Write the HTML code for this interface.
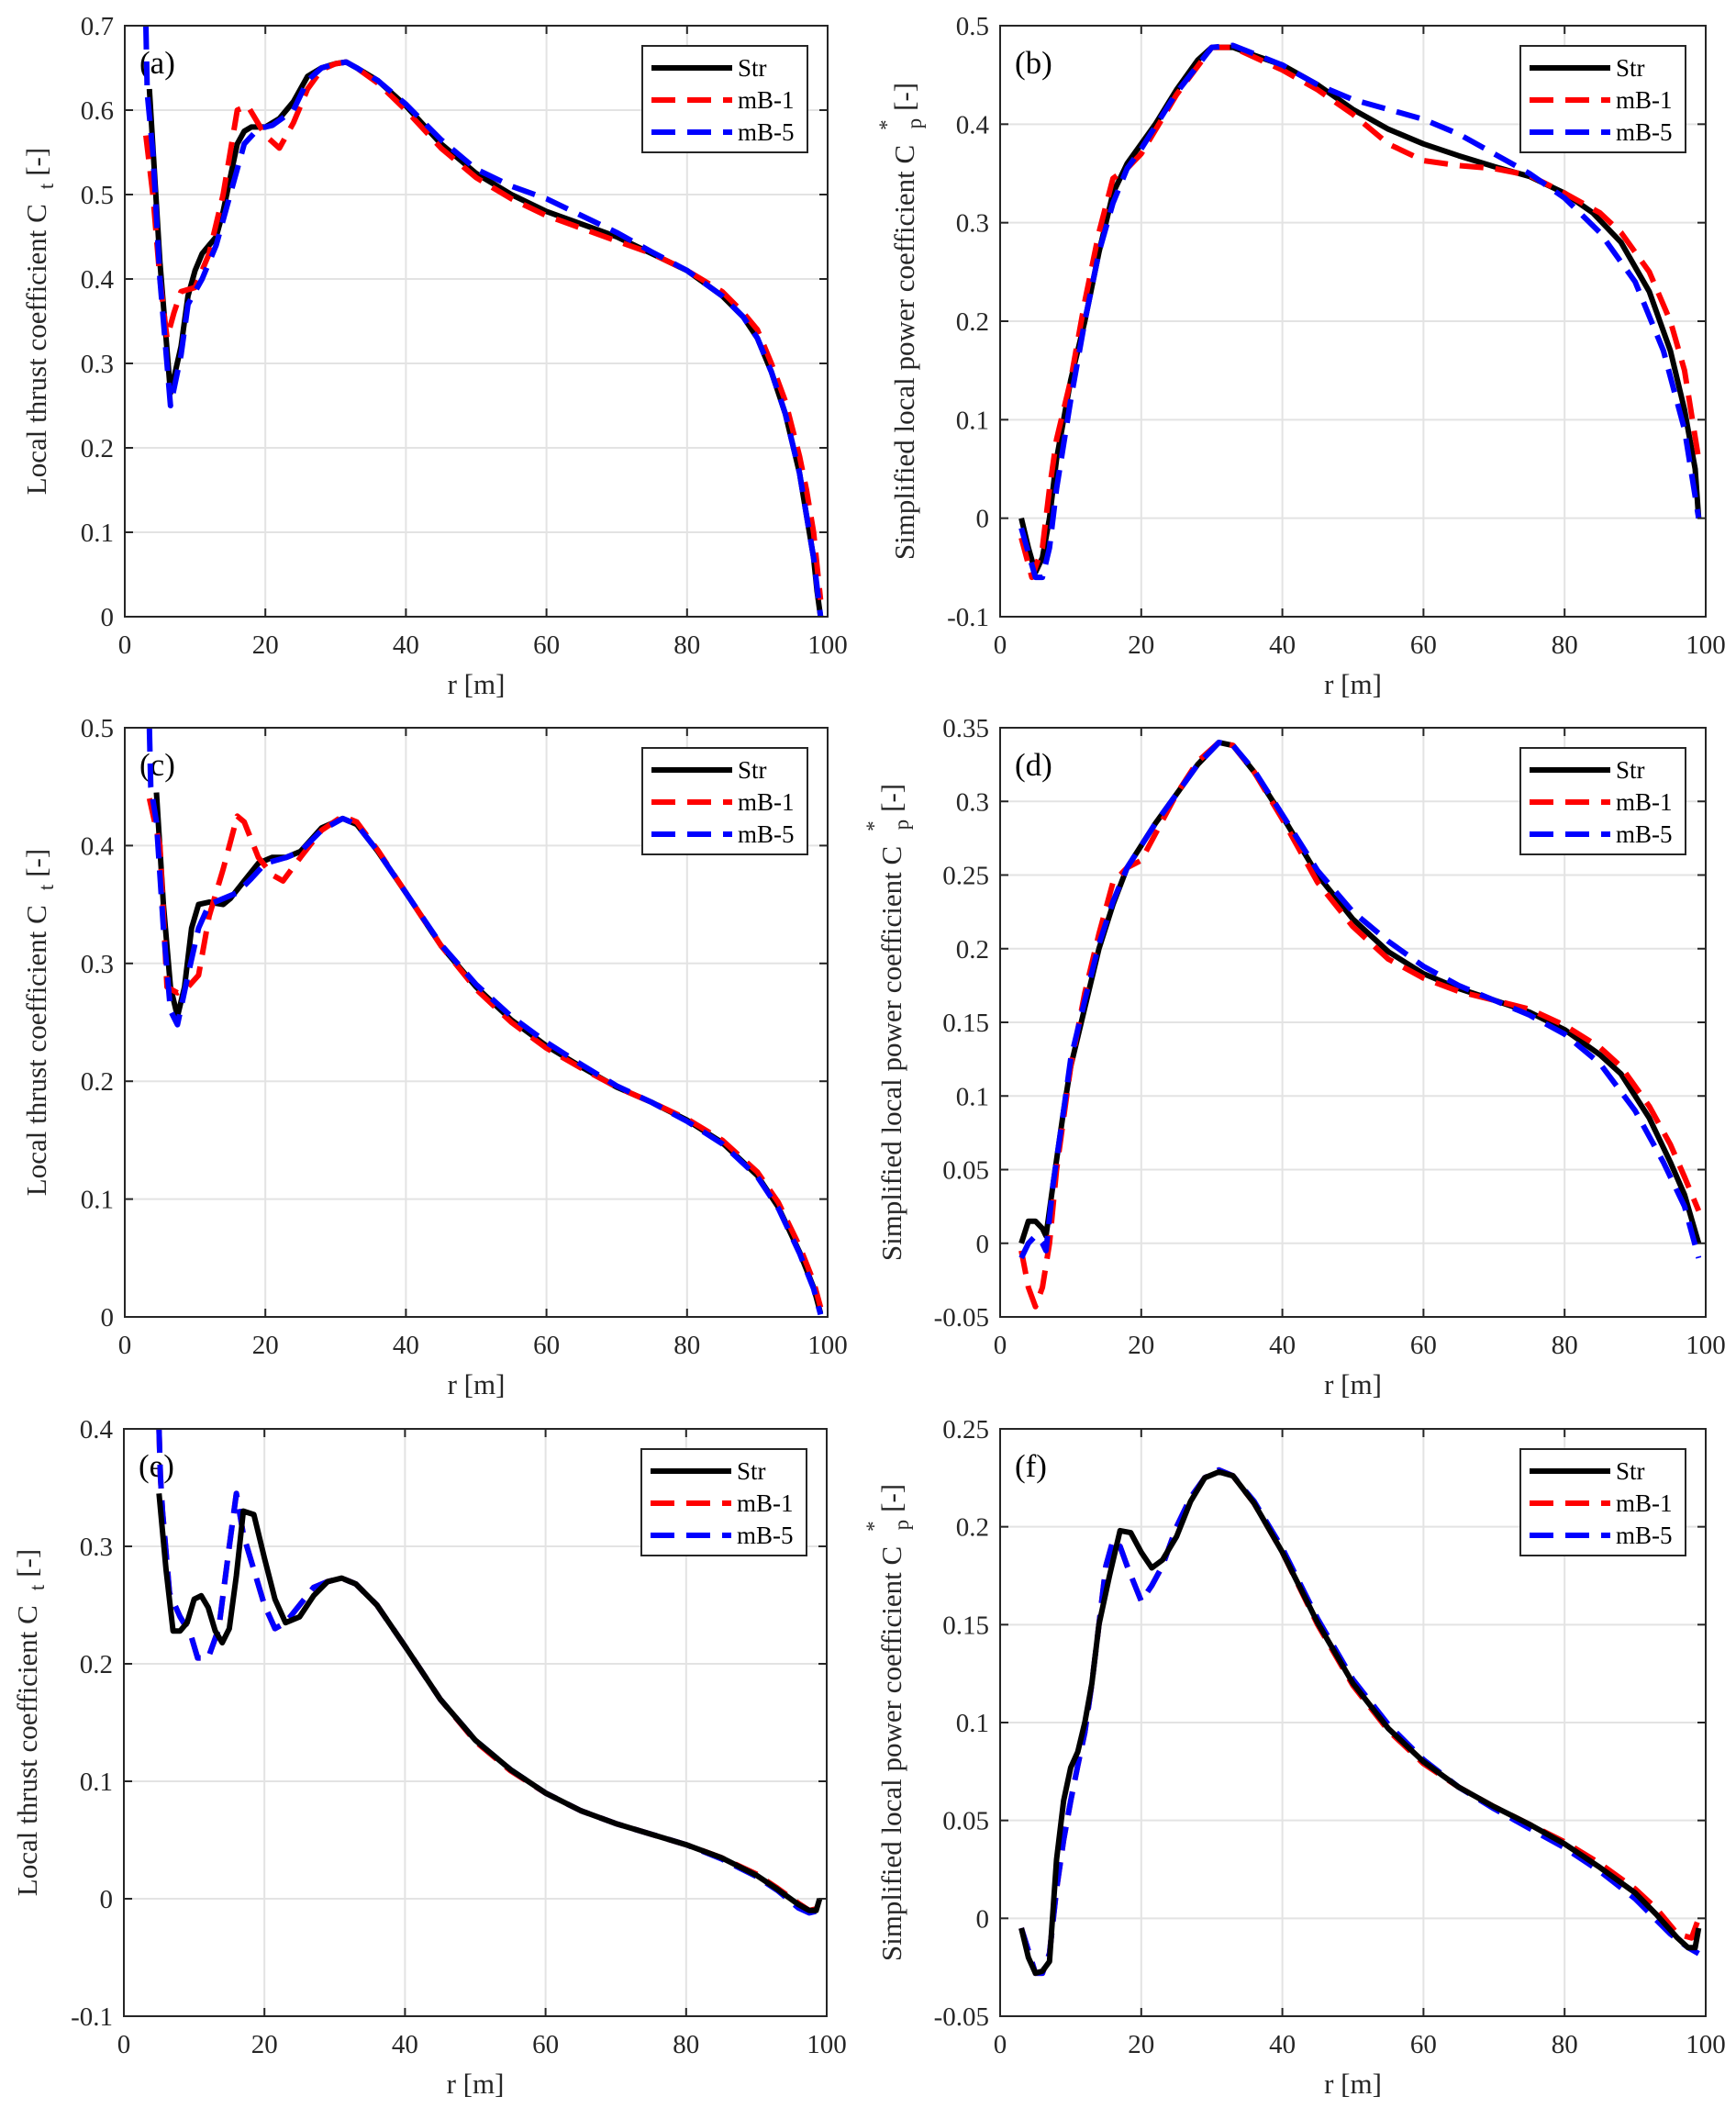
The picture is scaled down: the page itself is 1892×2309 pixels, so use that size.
<!DOCTYPE html>
<html><head><meta charset="utf-8">
<style>
html,body{margin:0;padding:0;background:#fff;}
svg{display:block;font-family:"Liberation Serif",serif;}
</style></head>
<body>
<svg id="fig" width="1892" height="2309" viewBox="0 0 1892 2309" xmlns="http://www.w3.org/2000/svg"></svg>
<script>
// ---------- Panel (a) ----------
const aStrR=[3.5,5,6.5,8,9,10,11,12,13,14,15,16,17,18,20,22,24,26,28,30,31.5,33,36,40,45,50,55,60,65,70,75,80,85,88,90,92,94,96,97,98,98.5,99];
const aStrV=[0.625,0.42,0.265,0.32,0.38,0.41,0.43,0.44,0.45,0.48,0.52,0.56,0.575,0.58,0.58,0.59,0.61,0.64,0.65,0.655,0.657,0.65,0.635,0.605,0.56,0.525,0.5,0.48,0.465,0.45,0.43,0.41,0.38,0.355,0.33,0.29,0.24,0.17,0.12,0.07,0.03,0.0];
const aB1R=[3,4,5,6,7,8,10,12,14,16,17.5,20,22,24,26,28,30,31.5,33,36,40,45,50,55,60,65,70,75,80,85,88,90,92,94,96,97,98,99];
const aB1V=[0.57,0.5,0.4,0.33,0.36,0.385,0.39,0.43,0.5,0.6,0.605,0.57,0.555,0.585,0.625,0.648,0.655,0.657,0.65,0.632,0.6,0.555,0.52,0.495,0.475,0.46,0.445,0.43,0.41,0.385,0.36,0.34,0.3,0.255,0.19,0.15,0.1,0.02];
const aB5R=[3,3.2,4,5,6.5,8,9,11,13,15,17,19,21,24,26,28,30,31.5,33,36,40,45,50,55,60,65,70,75,80,85,88,90,92,94,96,97,98,99];
const aB5V=[0.7,0.62,0.55,0.4,0.25,0.31,0.37,0.4,0.44,0.5,0.56,0.578,0.582,0.6,0.635,0.65,0.655,0.657,0.65,0.635,0.607,0.565,0.53,0.51,0.495,0.475,0.455,0.432,0.41,0.38,0.355,0.33,0.29,0.24,0.17,0.12,0.07,0.0];
// ---------- Panel (b) ----------
const bStrR=[3,4,5,6,7,8,10,12,14,16,18,20,22,25,28,30,33,36,40,45,50,55,60,65,70,75,80,84,88,92,95,97,98.5,99];
const bStrV=[0.0,-0.03,-0.055,-0.04,0.0,0.06,0.14,0.2,0.27,0.33,0.36,0.38,0.4,0.435,0.465,0.478,0.478,0.47,0.46,0.44,0.415,0.395,0.38,0.368,0.357,0.347,0.33,0.31,0.28,0.23,0.17,0.11,0.05,0.0];
const bB1R=[3,4.5,6,7,8,10,12,14,16,18,20,25,30,33,40,45,50,55,60,65,70,75,80,85,88,92,95,97,99];
const bB1V=[-0.02,-0.06,-0.03,0.03,0.08,0.14,0.22,0.29,0.345,0.355,0.37,0.43,0.478,0.478,0.455,0.435,0.41,0.38,0.363,0.358,0.355,0.348,0.33,0.31,0.29,0.25,0.2,0.15,0.06];
const bB5R=[3,5,6,7,8,10,12,14,16,18,20,25,30,33,40,45,50,55,60,65,70,75,80,85,90,94,97,99];
const bB5V=[-0.01,-0.06,-0.06,-0.03,0.03,0.12,0.2,0.27,0.32,0.355,0.375,0.432,0.478,0.48,0.46,0.44,0.425,0.415,0.405,0.39,0.37,0.35,0.325,0.29,0.24,0.17,0.09,0.0];
// ---------- Panel (c) ----------
const cStrR=[4.5,5.5,6.5,7.5,8.5,9.5,10.5,12,14,15,17,19,21,23,25,28,31,33,36,40,45,50,55,60,65,70,75,80,85,90,93,96,98,99];
const cStrV=[0.445,0.35,0.28,0.255,0.28,0.33,0.35,0.352,0.35,0.355,0.37,0.385,0.39,0.39,0.395,0.415,0.423,0.418,0.395,0.36,0.315,0.28,0.252,0.23,0.212,0.195,0.182,0.167,0.148,0.12,0.093,0.055,0.025,0.003];
const cB1R=[3.5,5,6,7.5,9,10.5,12,14,16,17,19,21,22.5,25,28,31,33,36,40,45,50,55,60,65,70,75,80,85,90,93,96,98,99];
const cB1V=[0.44,0.4,0.28,0.275,0.28,0.29,0.34,0.38,0.425,0.42,0.39,0.375,0.37,0.39,0.413,0.425,0.42,0.396,0.36,0.315,0.278,0.25,0.228,0.211,0.195,0.182,0.168,0.15,0.123,0.097,0.06,0.03,0.008];
const cB5R=[3.5,3.7,4.5,5.5,6.5,7.5,9,10.5,12,14,16,18,20,23,25,28,31,33,36,40,45,50,55,60,65,70,75,80,85,90,93,96,98,99];
const cB5V=[0.5,0.45,0.42,0.33,0.26,0.248,0.29,0.33,0.35,0.355,0.36,0.372,0.385,0.39,0.395,0.413,0.423,0.418,0.395,0.36,0.316,0.282,0.255,0.233,0.214,0.196,0.182,0.166,0.147,0.119,0.092,0.054,0.024,0.002];
// ---------- Panel (d) ----------
const dStrR=[3,4,5,6,6.5,7.5,9,10,12,14,16,18,20,22,25,28,31,33,36,40,45,50,55,60,65,70,75,80,85,88,92,95,97,99];
const dStrV=[0.0,0.015,0.015,0.01,0.005,0.04,0.09,0.12,0.16,0.2,0.23,0.255,0.27,0.285,0.305,0.325,0.34,0.338,0.32,0.29,0.25,0.22,0.198,0.183,0.173,0.165,0.157,0.145,0.128,0.115,0.085,0.055,0.033,0.0];
const dB1R=[3,4,5,6,7,8,10,12,14,16,18,20,22,25,28,31,33,36,40,45,50,55,60,65,70,75,80,85,88,92,95,97,99];
const dB1V=[-0.005,-0.03,-0.043,-0.03,0.0,0.05,0.12,0.17,0.21,0.245,0.255,0.26,0.278,0.305,0.327,0.34,0.338,0.32,0.288,0.245,0.215,0.193,0.18,0.171,0.165,0.159,0.148,0.133,0.12,0.093,0.067,0.045,0.022];
const dB5R=[3,4,5,6,6.5,7.5,9,10,12,14,16,18,20,22,25,28,31,33,36,40,45,50,55,60,65,70,75,80,85,90,94,97,99];
const dB5V=[-0.01,0.0,0.005,0.0,-0.005,0.04,0.09,0.125,0.165,0.203,0.232,0.255,0.27,0.285,0.305,0.325,0.34,0.338,0.321,0.291,0.253,0.225,0.205,0.188,0.175,0.165,0.155,0.142,0.122,0.09,0.055,0.025,-0.01];
// ---------- Panel (e) ----------
const eStrR=[5,6,7,8,9,10,11,12,13,14,15,16,17,18.5,20,21.5,23,25,27,29,31,33,36,40,45,50,55,60,65,70,75,80,85,90,93,96,97.5,98.5,99];
const eStrV=[0.345,0.28,0.228,0.228,0.235,0.255,0.258,0.248,0.228,0.218,0.23,0.275,0.33,0.327,0.29,0.255,0.235,0.24,0.258,0.27,0.273,0.268,0.25,0.215,0.17,0.135,0.11,0.09,0.075,0.064,0.055,0.046,0.035,0.02,0.008,-0.005,-0.01,-0.01,0.0];
const eB1R=[5,5.2,5.5,6.5,8,9.5,10.5,12,13.5,15,16,17,18.5,20,21.5,23,25,27,29,31,33,36,40,45,50,55,60,65,70,75,80,85,90,93,96,97.5,99];
const eB1V=[0.4,0.36,0.33,0.26,0.24,0.225,0.205,0.205,0.23,0.3,0.345,0.31,0.28,0.25,0.23,0.235,0.25,0.265,0.27,0.273,0.268,0.25,0.215,0.17,0.134,0.109,0.09,0.075,0.064,0.055,0.046,0.035,0.021,0.009,-0.004,-0.01,-0.008];
const eB5R=[5,5.2,5.5,6.5,8,9.5,10.5,12,13.5,15,16,17,18.5,20,21.5,23,25,27,29,31,33,36,40,45,50,55,60,65,70,75,80,85,90,93,96,97.5,99];
const eB5V=[0.4,0.36,0.33,0.26,0.24,0.225,0.205,0.205,0.23,0.3,0.345,0.31,0.28,0.25,0.23,0.235,0.25,0.265,0.27,0.273,0.268,0.25,0.215,0.17,0.135,0.11,0.09,0.075,0.064,0.055,0.046,0.034,0.019,0.007,-0.008,-0.012,-0.01];
// ---------- Panel (f) ----------
const fStrR=[3,4,5,6,7,8,9,10,11,12,13,14,15.5,17,18.5,20,21.5,23,25,27,29,31,33,36,40,45,50,55,60,65,70,75,80,85,90,93,96,97.5,98.5,99];
const fStrV=[-0.005,-0.02,-0.028,-0.027,-0.022,0.03,0.06,0.077,0.085,0.1,0.12,0.15,0.175,0.198,0.197,0.187,0.179,0.183,0.195,0.213,0.225,0.228,0.226,0.212,0.187,0.151,0.12,0.097,0.08,0.067,0.057,0.048,0.038,0.026,0.013,0.002,-0.01,-0.015,-0.015,-0.005];
const fB1R=[3,5,6,7,8,9,10,11,12,13,14,15,16,17,18,20,21.5,23,25,27,29,31,33,36,40,45,50,55,60,65,70,75,80,85,90,93,96,98,99];
const fB1V=[-0.005,-0.028,-0.028,-0.018,0.015,0.04,0.06,0.078,0.095,0.12,0.15,0.18,0.193,0.19,0.18,0.162,0.17,0.18,0.2,0.215,0.225,0.229,0.226,0.212,0.187,0.15,0.119,0.096,0.079,0.067,0.057,0.048,0.039,0.028,0.015,0.005,-0.008,-0.01,0.0];
const fB5R=[3,5,6,7,8,9,10,11,12,13,14,15,16,17,18,20,21.5,23,25,27,29,31,33,36,40,45,50,55,60,65,70,75,80,85,90,95,97.5,99];
const fB5V=[-0.005,-0.028,-0.028,-0.018,0.015,0.04,0.06,0.078,0.095,0.12,0.15,0.18,0.193,0.19,0.18,0.162,0.17,0.18,0.2,0.215,0.225,0.229,0.226,0.213,0.189,0.153,0.122,0.099,0.081,0.067,0.056,0.046,0.036,0.024,0.01,-0.008,-0.015,-0.018];

const xTicks=[0,20,40,60,80,100];
const aTicks=[0,0.1,0.2,0.3,0.4,0.5,0.6,0.7];
const bTicks=[-0.1,0,0.1,0.2,0.3,0.4,0.5];
const cTicks=[0,0.1,0.2,0.3,0.4,0.5];
const dTicks=[-0.05,0,0.05,0.1,0.15,0.2,0.25,0.3,0.35];
const eTicks=[-0.1,0,0.1,0.2,0.3,0.4];
const fTicks=[-0.05,0,0.05,0.1,0.15,0.2,0.25];

const NS="http://www.w3.org/2000/svg";
const fig=document.getElementById('fig');
function mk(tag,attrs,parent){const e=document.createElementNS(NS,tag);for(const k in attrs)e.setAttribute(k,attrs[k]);(parent||fig).appendChild(e);return e;}
function fmt(v){return (Math.round(v*1000)/1000).toString();}
const DASH='26 13', LW=6;

function panel(cfg){
  const g=mk('g',{});
  
  
  const L=cfg.L,R=cfg.R,T=cfg.T,B=cfg.B;
  const ymin=cfg.ticks[0],ymax=cfg.ticks[cfg.ticks.length-1];
  const sx=v=>L+(v-0)/(100-0)*(R-L);
  const sy=v=>B-(v-ymin)/(ymax-ymin)*(B-T);
  xTicks.forEach(t=>{ if(t>0&&t<100){const l=mk('line',{x1:sx(t),x2:sx(t),y1:T,y2:B,stroke:'#e3e3e3','stroke-width':2},g);
    }});
  cfg.ticks.forEach(t=>{ if(t>ymin&&t<ymax){const l=mk('line',{x1:L,x2:R,y1:sy(t),y2:sy(t),stroke:'#e3e3e3','stroke-width':2},g);
    }});
  // panel letter (under curves)
  const pl=mk('text',{x:L+16,y:T+52,'font-size':35,fill:'#000'},g);
  pl.textContent='('+cfg.id+')';
  
  const clip=mk('clipPath',{id:'clip'+cfg.id},g);
  mk('rect',{x:L,y:T-6,width:R-L,height:B-T+12},clip);
  const series=[
    {r:cfg.s[0][0],v:cfg.s[0][1],col:'#000',dash:'',name:'series-str'},
    {r:cfg.s[1][0],v:cfg.s[1][1],col:'#ff0000',dash:DASH,name:'series-mb-1'},
    {r:cfg.s[2][0],v:cfg.s[2][1],col:'#0000ff',dash:DASH,name:'series-mb-5'}];
  const order=cfg.order||[0,1,2];
  order.forEach(i=>{const s=series[i];
    const pts=s.r.map((r,k)=>sx(r).toFixed(1)+','+sy(s.v[k]).toFixed(1)).join(' ');
    const p=mk('polyline',{points:pts,fill:'none',stroke:s.col,'stroke-width':LW,'stroke-dasharray':s.dash,'stroke-linejoin':'round','clip-path':'url(#clip'+cfg.id+')'},g);
    
    
  });
  const bx=mk('rect',{x:L,y:T,width:R-L,height:B-T,fill:'none',stroke:'#262626','stroke-width':2},g);
  
  xTicks.forEach(t=>{
    mk('line',{x1:sx(t),x2:sx(t),y1:B,y2:B-9,stroke:'#262626','stroke-width':2},g);
    mk('line',{x1:sx(t),x2:sx(t),y1:T,y2:T+9,stroke:'#262626','stroke-width':2},g);
    const tx=mk('text',{x:sx(t),y:B+40,'text-anchor':'middle','font-size':29,fill:'#262626'},g);
    tx.textContent=t;
    
  });
  cfg.ticks.forEach(t=>{
    mk('line',{x1:L,x2:L+9,y1:sy(t),y2:sy(t),stroke:'#262626','stroke-width':2},g);
    mk('line',{x1:R,x2:R-9,y1:sy(t),y2:sy(t),stroke:'#262626','stroke-width':2},g);
    const tx=mk('text',{x:L-12,y:sy(t)+10,'text-anchor':'end','font-size':29,fill:'#262626'},g);
    tx.textContent=fmt(t);
    
  });
  const xl=mk('text',{x:(L+R)/2,y:B+84,'text-anchor':'middle','font-size':31,fill:'#262626'},g);
  xl.textContent='r [m]';
  
  const cy=(T+B)/2;
  const yl=mk('text',{x:0,y:0,'text-anchor':'middle','font-size':31,fill:'#262626',transform:'translate('+cfg.ylx+','+cy+') rotate(-90)'},g);
  
  if(cfg.power){
    yl.innerHTML='Simplified local power coefficient C<tspan font-size="23" dx="16" dy="-22">*</tspan><tspan font-size="23" dx="-10" dy="30">p</tspan><tspan dx="8" dy="-8">[-]</tspan>';
  } else {
    yl.innerHTML='Local thrust coefficient C<tspan font-size="23" dx="16" dy="8">t</tspan><tspan dx="8" dy="-8">[-]</tspan>';
  }
  const lg=mk('g',{},g);
  
  const lx=R-180, ly=T+22;
  mk('rect',{x:lx-22,y:ly,width:180,height:116,fill:'#fff',stroke:'#262626','stroke-width':2},lg);
  const names=['Str','mB-1','mB-5'],cols=['#000','#ff0000','#0000ff'],dashes=['',DASH,DASH];
  names.forEach((n,i)=>{
    const yy=ly+24+i*35;
    const e=mk('g',{},lg);
    
    mk('line',{x1:lx-12,x2:lx+76,y1:yy,y2:yy,stroke:cols[i],'stroke-width':LW,'stroke-dasharray':dashes[i]},e);
    const t=mk('text',{x:lx+82,y:yy+9,'font-size':27,fill:'#000'},e);t.textContent=n;
  });
}
const LL=136,LR=902,RL=1090,RR=1859;
panel({id:'a',L:LL,R:LR,T:28,B:672,ticks:aTicks,ylx:50,s:[[aStrR,aStrV],[aB1R,aB1V],[aB5R,aB5V]],order:[0,1,2]});
panel({id:'b',L:RL,R:RR,T:28,B:672,ticks:bTicks,ylx:996,power:true,s:[[bStrR,bStrV],[bB1R,bB1V],[bB5R,bB5V]],order:[0,1,2]});
panel({id:'c',L:LL,R:LR,T:793,B:1435,ticks:cTicks,ylx:50,s:[[cStrR,cStrV],[cB1R,cB1V],[cB5R,cB5V]],order:[0,1,2]});
panel({id:'d',L:RL,R:RR,T:793,B:1435,ticks:dTicks,ylx:982,power:true,s:[[dStrR,dStrV],[dB1R,dB1V],[dB5R,dB5V]],order:[0,1,2]});
panel({id:'e',L:LL-1,R:LR-1,T:1557,B:2197,ticks:eTicks,ylx:40,s:[[eStrR,eStrV],[eB1R,eB1V],[eB5R,eB5V]],order:[1,2,0]});
panel({id:'f',L:RL,R:RR,T:1557,B:2197,ticks:fTicks,ylx:982,power:true,s:[[fStrR,fStrV],[fB1R,fB1V],[fB5R,fB5V]],order:[1,2,0]});
</script>
</body></html>
